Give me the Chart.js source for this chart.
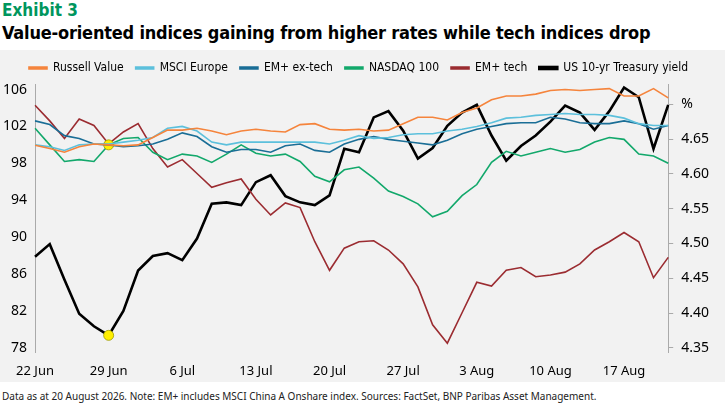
<!DOCTYPE html>
<html lang="en">
<head>
<meta charset="UTF-8">
<title>Exhibit 3</title>
<script src="https://cdn.jsdelivr.net/npm/chart.js"></script>
<style>
	body { margin: 0; width: 725px; height: 406px; background: #fff; font-family: "DejaVu Sans Condensed", "DejaVu Sans", sans-serif; overflow: hidden; }
	.ex { color: #00965e; font-weight: bold; font-size: 17px; position: absolute; left: 2px; top: 0px; }
	.title { color: #000; font-weight: bold; font-size: 18px; position: absolute; left: 2px; top: 22px; letter-spacing: -0.2px; }
	.box { position: absolute; left: 0; top: 50px; width: 725px; height: 332px; background: #f2f2f2; }
	.note { position: absolute; left: 2px; top: 389px; font-size: 10px; color: #222; font-family: "Noto Sans", sans-serif; }
</style>
</head>
<body>
<div class="ex">Exhibit 3</div>
<div class="title">Value-oriented indices gaining from higher rates while tech indices drop</div>
<div class="box"><canvas id="chart" width="725" height="332"></canvas></div>
<div class="note">Data as at 20 August 2026. Note: EM+ includes MSCI China A Onshare index. Sources: FactSet, BNP Paribas Asset Management.</div>
<script>
	// business days 22 Jun - 20 Aug
	const dates = [];
	const mons = ['Jun', 'Jul', 'Aug'];
	let d = new Date(2026, 5, 22);
	while (dates.length < 44) {
		if (d.getDay() > 0 && d.getDay() < 6) dates.push(d.getDate() + ' ' + mons[d.getMonth() - 5]);
		d.setDate(d.getDate() + 1);
	}

	const russellValue = [99.95, 99.6, 99.2, 99.8, 100.1, 100, 99.9, 100, 100.8, 101.6, 101.6, 101.8, 101.5, 101.1, 101.5, 101.7, 101.5, 101.4, 102.2, 102.3, 101.7, 101.6,
		101.7, 101.5, 101.6, 102.3, 103.0, 103.0, 102.7, 103.5, 104.0, 104.9, 105.3, 105.3, 105.5, 105.9, 106.0, 105.9, 106.0, 106.1, 105.3, 105.3, 106.1, 105.1];
	const msciEurope = [100, 99.8, 99.4, 100, 100.1, 100.1, 100.3, 100.5, 100.8, 101.8, 102.0, 101.5, 100.3, 100, 100.3, 100.3, 100.3, 100.3, 100.3, 100.3, 100.1, 100.5,
		101.0, 100.7, 100.8, 101.1, 101.2, 101.2, 101.5, 101.7, 102.0, 102.4, 102.9, 103.0, 103.2, 103.3, 103.4, 103.3, 103.3, 103.2, 102.9, 102.3, 102.1, 102.1];
	const emExTech = [102.6, 102.2, 101.0, 100.7, 100.1, 100, 99.8, 99.9, 100.1, 100.6, 101.3, 100.9, 99.8, 99.2, 99.5, 99.5, 99.2, 99.9, 100.1, 99.4, 99.2, 100.1,
		100.6, 100.9, 100.6, 100.4, 100.2, 100.0, 100.5, 101.2, 101.7, 102.0, 102.3, 102.4, 102.4, 103.0, 102.8, 102.4, 102.3, 102.3, 102.6, 102.3, 101.7, 102.1];
	const nasdaq = [101.8, 100, 98.2, 98.4, 98.2, 100, 100.7, 100.8, 99.2, 98.4, 99.0, 98.8, 98.1, 99.0, 100, 99.1, 98.8, 99.0, 98.2, 96.6, 96.0, 97.3,
		97.6, 96.4, 95.0, 94.4, 93.6, 92.2, 92.8, 94.5, 95.7, 98.1, 99.3, 98.8, 99.2, 99.6, 99.2, 99.5, 100.3, 100.8, 100.6, 99.0, 98.8, 98.0];
	const emTech = [104.3, 102.6, 100.7, 102.8, 102.1, 100.1, 101.4, 102.3, 99.6, 97.6, 98.4, 96.9, 95.4, 95.9, 96.3, 94.1, 92.4, 93.7, 93.2, 89.5, 86.4, 88.8,
		89.5, 89.6, 88.6, 87.1, 84.6, 80.5, 78.5, 81.8, 85.1, 84.7, 86.4, 86.7, 85.7, 85.9, 86.2, 87.1, 88.6, 89.5, 90.5, 89.5, 85.6, 87.8];
	const ust10 = [4.481, 4.499, 4.448, 4.399, 4.381, 4.368, 4.403, 4.461, 4.482, 4.486, 4.476, 4.507, 4.557, 4.559, 4.555, 4.588, 4.598, 4.568, 4.559, 4.555, 4.569, 4.636,
		4.631, 4.681, 4.690, 4.662, 4.622, 4.637, 4.669, 4.688, 4.699, 4.655, 4.619, 4.640, 4.655, 4.675, 4.698, 4.688, 4.663, 4.690, 4.724, 4.710, 4.636, 4.699];

	const leftTicks = [78, 80, 82, 84, 86, 88, 90, 92, 94, 96, 98, 100, 102, 104, 106];
	const rightTicks = [4.35, 4.40, 4.45, 4.50, 4.55, 4.60, 4.65, 4.70];

	const dot = (i) => dates.map((_, k) => k === i ? 5 : 0);
	const line = (label, data, color, extra) => Object.assign({ label, data, borderColor: color, backgroundColor: color, borderWidth: 1.6, pointRadius: 0, tension: 0, yAxisID: 'y' }, extra || {});

	new Chart(document.getElementById('chart'), {
		type: 'line',
		data: {
			labels: dates,
			datasets: [
				line('Russell Value', russellValue, '#f5843c'),
				line('MSCI Europe', msciEurope, '#5cc0dc'),
				line('EM+ ex-tech', emExTech, '#1a6e96'),
				line('NASDAQ 100', nasdaq, '#12a86b', { pointRadius: dot(5), pointBackgroundColor: '#ffee00', pointBorderColor: '#999900', pointBorderWidth: 0.8 }),
				line('EM+ tech', emTech, '#9b2c31'),
				line('US 10-yr Treasury yield', ust10, '#000', { borderWidth: 2.6, yAxisID: 'y1', pointRadius: dot(5), pointBackgroundColor: '#ffee00', pointBorderColor: '#999900', pointBorderWidth: 0.8 })
			]
		},
		options: {
			responsive: false,
			animation: false,
			layout: { padding: { left: 0, right: 8, top: 0, bottom: 0 } },
			plugins: {
				legend: {
					labels: { boxWidth: 18, boxHeight: 2, padding: 12, color: '#000', font: { family: 'DejaVu Sans Condensed', size: 12 } }
				},
				tooltip: { enabled: false }
			},
			scales: {
				x: {
					grid: { display: false },
					border: { display: false },
					ticks: {
						autoSkip: false, maxRotation: 0, color: '#000', font: { size: 13, family: 'Noto Sans' },
						callback: (v, i) => i % 5 === 0 ? dates[i] : ''
					}
				},
				y: {
					position: 'left', min: 77.5, max: 106.6,
					afterBuildTicks: (ax) => { ax.ticks = leftTicks.map(v => ({ value: v })); },
					grid: { color: (c) => c.tick && c.tick.value === 100 ? '#9a9a9a' : 'rgba(0,0,0,0)', tickLength: 5 },
					border: { color: '#aaa' },
					ticks: { color: '#000', font: { size: 14, family: 'Noto Sans' }, padding: 3 }
				},
				y1: {
					position: 'right', min: 4.3435, max: 4.729,
					afterBuildTicks: (ax) => { ax.ticks = rightTicks.map(v => ({ value: v })); },
					grid: { drawOnChartArea: false, color: '#aaa', tickLength: 5 },
					border: { color: '#aaa' },
					ticks: { color: '#000', font: { size: 14, family: 'Noto Sans' }, padding: 8, callback: (v) => Math.abs(v - 4.70) < 1e-6 ? '%' : v.toFixed(2) }
				}
			}
		}
	});
</script>
</body>
</html>
